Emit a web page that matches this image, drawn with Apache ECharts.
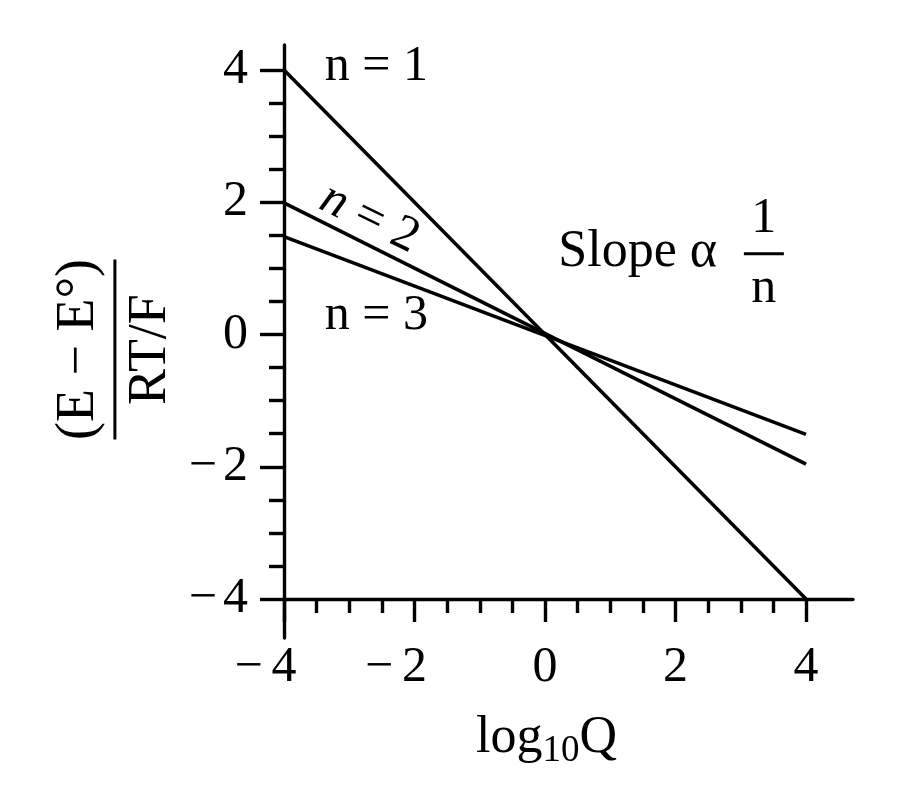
<!DOCTYPE html>
<html><head><meta charset="utf-8">
<script src="https://cdn.jsdelivr.net/npm/echarts@6/dist/echarts.min.js"></script>
<style>html,body{margin:0;background:#fff}#c{width:900px;height:790px}</style>
</head><body><div id="c"></div>
<script>
// ---- data ----
const xValues = [-4, 4];
const lineN1 = [4, -4];
const lineN2 = [1.99, -1.96];
const lineN3 = [1.48, -1.51];
const seriesNames = ['n = 1', 'n = 2', 'n = 3'];
const majorTicks = [-4, -2, 0, 2, 4];
const minorTicksX = [-3.5, -3, -2.5, -1.5, -1, -0.5, 0.5, 1, 1.5, 2.5, 3, 3.5];
const xMin = -4, xMax = 4.72, yMin = -4, yMax = 4;
const annoText = ['n = 1', '{i|n} = 2', 'n = 3', 'Slope α', '{t|1}\n{bar|}\n{t|n}'];
const annoX = [-2.585, -2.69, -2.585, 1.42, 3.354];
const annoY = [4.05, 1.755, 0.286, 1.25, 1.22];
const annoRotate = [0, -26, 0, 0, 0];

// ---- styles ----
const FF = 'Liberation Serif';
const BLACK = '#000';
const font = (size) => ({ fontFamily: FF, fontSize: size, color: BLACK });

const chart = echarts.init(document.getElementById('c'), null, { renderer: 'canvas' });

const toPairs = (ys) => xValues.map((x, i) => [x, ys[i]]);
const lineSeries = [lineN1, lineN2, lineN3].map((ys, i) => ({
  name: seriesNames[i],
  type: 'line',
  xAxisIndex: 0, yAxisIndex: 0,
  data: toPairs(ys),
  symbol: 'none',
  silent: true,
  lineStyle: { color: BLACK, width: 3.5 },
  z: 3
}));

const annoSeries = {
  type: 'scatter',
  xAxisIndex: 0, yAxisIndex: 0,
  symbolSize: 0,
  silent: true,
  clip: false,
  itemStyle: { color: BLACK, opacity: 1 },
  data: annoText.map((t, i) => ({
    value: [annoX[i], annoY[i]],
    label: { formatter: t, rotate: annoRotate[i], fontSize: i === 3 ? 52 : 50, color: BLACK,
      textBorderWidth: 0 }
  })),
  label: {
    show: true,
    position: [0, 0],
    align: 'center',
    verticalAlign: 'middle',
    fontFamily: FF, fontSize: 50, color: BLACK, textBorderWidth: 0, opacity: 1,
    rich: {
      i: { fontFamily: FF, fontSize: 50, fontStyle: 'italic', color: BLACK },
      t: { fontFamily: FF, fontSize: 50, color: BLACK, lineHeight: 50, align: 'center' },
      bar: { width: 40, height: 3, lineHeight: 20, backgroundColor: BLACK, align: 'center' }
    }
  },
  z: 5
};

const xLabelFmt = (v) => v < 0 ? '{m|−}' + (-v) + '{p|}' : String(v);
const yLabelFmt = (v) => v < 0 ? '{m|−}' + (-v) : String(v);
const labelRich = {
  m: Object.assign(font(50), { padding: [0, 9, 0, 0] }),
  p: Object.assign(font(50), { width: 37 })
};

chart.setOption({
  animation: false,
  backgroundColor: '#fff',
  grid: [
    { left: 284, right: 47, top: 70, bottom: 191, containLabel: false },
    { left: 284, width: 20, top: 45, bottom: 152, containLabel: false }
  ],
  xAxis: [
    {
      type: 'value', gridIndex: 0, min: xMin, max: xMax, position: 'bottom',
      axisLine: { show: true, onZero: false, lineStyle: { color: BLACK, width: 3.4 } },
      axisTick: { show: true, customValues: majorTicks, length: 23, lineStyle: { color: BLACK, width: 3.4 } },
      axisLabel: { show: true, customValues: majorTicks, formatter: xLabelFmt, margin: 44,
        fontFamily: FF, fontSize: 50, color: BLACK, rich: labelRich },
      splitLine: { show: false },
      name: 'log{sub|10}Q', nameLocation: 'middle', nameGap: 108,
      nameTextStyle: { fontFamily: FF, fontSize: 52, color: BLACK, padding: [0, 44, 0, 0],
        rich: { sub: { fontFamily: FF, fontSize: 37, color: BLACK, padding: [26, 0, 0, 0] } } }
    },
    {
      type: 'value', gridIndex: 0, min: xMin, max: xMax, position: 'bottom',
      axisLine: { show: false, onZero: false },
      axisTick: { show: true, customValues: minorTicksX, length: 14, lineStyle: { color: BLACK, width: 3.4 } },
      axisLabel: { show: false },
      splitLine: { show: false }
    },
    {
      type: 'value', gridIndex: 1, min: 0, max: 1, show: false
    }
  ],
  yAxis: [
    {
      type: 'value', gridIndex: 0, min: yMin, max: yMax, interval: 2,
      axisLine: { show: false, onZero: false },
      axisTick: { show: true, length: 24, lineStyle: { color: BLACK, width: 3.4 } },
      minorTick: { show: true, splitNumber: 4, length: 15, lineStyle: { color: BLACK, width: 3.4 } },
      axisLabel: { show: true, formatter: yLabelFmt, margin: 36,
        fontFamily: FF, fontSize: 50, color: BLACK, rich: { m: Object.assign(font(50), { padding: [0, 6, 0, 0] }) } },
      splitLine: { show: false },
      minorSplitLine: { show: false },
      name: '{num|(E − E°)}\n{bar|}\n{den|RT/F}',
      nameLocation: 'middle', nameRotate: 90, nameGap: 168,
      nameTextStyle: {
        align: 'center', verticalAlign: 'middle', padding: [0, 30, 0, 0],
        rich: {
          num: { fontFamily: FF, fontSize: 54, lineHeight: 54, color: BLACK, align: 'center' },
          bar: { width: 180, height: 3, lineHeight: 18, backgroundColor: BLACK, align: 'center' },
          den: { fontFamily: FF, fontSize: 54, lineHeight: 54, color: BLACK, align: 'center' }
        }
      }
    },
    {
      type: 'value', gridIndex: 1, min: 0, max: 1,
      axisLine: { show: true, onZero: false, lineStyle: { color: BLACK, width: 3.4 } },
      axisTick: { show: false }, axisLabel: { show: false }, splitLine: { show: false }
    }
  ],
  series: lineSeries.concat([annoSeries])
});
</script></body></html>
